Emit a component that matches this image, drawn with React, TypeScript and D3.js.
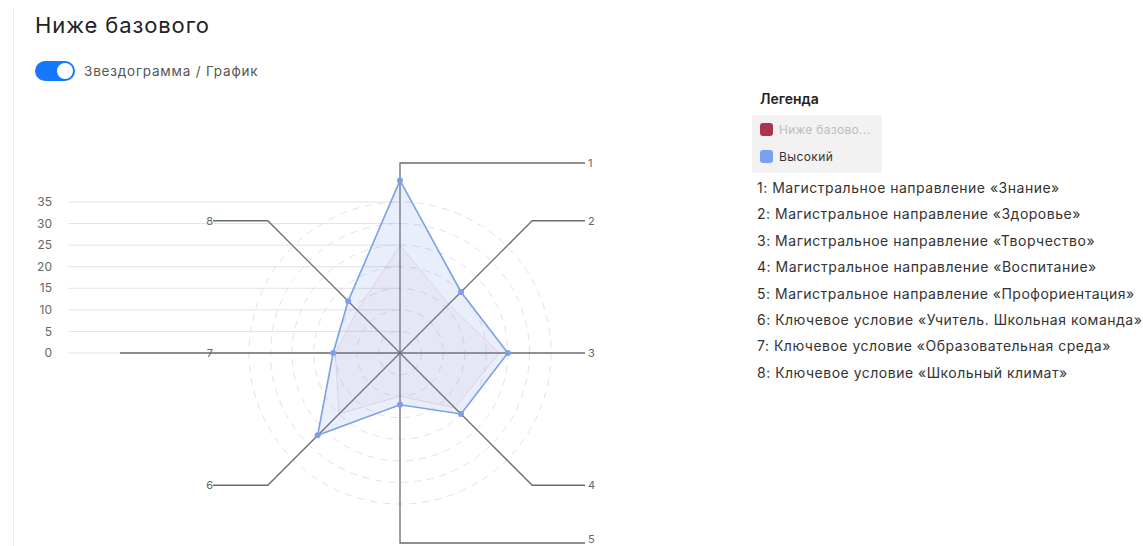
import React from 'react';
import * as d3 from 'd3';

// axis numbers around the star
const axes = ['1', '2', '3', '4', '5', '6', '7', '8'];
const axisNames = [
  'Магистральное направление «Знание»',
  'Магистральное направление «Здоровье»',
  'Магистральное направление «Творчество»',
  'Магистральное направление «Воспитание»',
  'Магистральное направление «Профориентация»',
  'Ключевое условие «Учитель. Школьная команда»',
  'Ключевое условие «Образовательная среда»',
  'Ключевое условие «Школьный климат»',
];
const seriesNames = ['Ниже базового', 'Высокий'];
const lowValues = [25, 16, 23, 18, 10, 20, 15, 14];
const highValues = [40, 20, 25, 20, 12, 27, 15.5, 17];
const yTicks = [0, 5, 10, 15, 20, 25, 30, 35];

const cx = 400;
const cy = 353;
const font = 'Inter, "Noto Sans", sans-serif';

function App() {
  const r = d3.scaleLinear().domain([0, 35]).range([0, 151]);
  const angle = d3.scaleLinear().domain([0, axes.length]).range([0, 2 * Math.PI]);

  const pt = (i: number, v: number): [number, number] => {
    const a = angle(i);
    return [cx + Math.sin(a) * r(v), cy - Math.cos(a) * r(v)];
  };

  const radial = d3
    .lineRadial<number>()
    .angle((_, i) => angle(i))
    .radius((d) => r(d))
    .curve(d3.curveLinearClosed);

  // leader lines: out along the axis, then horizontal to label
  const L = 190;
  const leader = (i: number) => {
    const a = angle(i);
    const len = i % 2 === 1 ? 187 : L;
    const ex = cx + Math.sin(a) * len;
    const ey = cy - Math.cos(a) * len;
    if (i === 2) return { d: `M${cx},${cy}H${cx + 185}`, lx: cx + 188, ly: cy, anchor: 'start' };
    if (i === 6) return { d: `M${cx},${cy}H120`, lx: 213, ly: cy, anchor: 'end' };
    const right = i <= 4;
    const hx = right ? cx + 185 : cx - 187;
    return {
      d: `M${cx},${cy}L${ex},${ey}H${hx}`,
      lx: right ? hx + 3 : hx,
      ly: i === 4 ? ey - 4 : ey,
      anchor: right ? 'start' : 'end',
    };
  };

  return (
    <div style={{ position: 'absolute', left: 0, top: 0 }}>
      <svg width={1143} height={546} style={{ display: 'block', fontFamily: font }}>
        <rect width={1143} height={546} fill="#fff" />
        <line x1={13.5} x2={13.5} y1={8} y2={546} stroke="#ececec" />

        <text x={35} y={33} fontSize={22} letterSpacing={0.9} fill="#222">Ниже базового</text>
        <rect x={35} y={61} width={40} height={20} rx={10} fill="#1677ff" />
        <circle cx={65} cy={71} r={8} fill="#fff" />
        <text x={84} y={76} fontSize={13.5} letterSpacing={0.8} fill="#555">Звездограмма / График</text>

        {/* y axis + grid */}
        {yTicks.map((t) => (
          <g key={t}>
            <line x1={68} x2={cx} y1={cy - r(t)} y2={cy - r(t)} stroke="#e3e3e3" />
            <text x={52} y={cy - r(t)} dy="0.35em" textAnchor="end" fontSize={12} fill="#666">
              {t}
            </text>
          </g>
        ))}

        {/* dashed rings */}
        {yTicks.slice(1).map((t) => (
          <circle key={t} cx={cx} cy={cy} r={r(t)} fill="none" stroke="#e2e2e2" strokeDasharray="7 6" />
        ))}

        {/* axes and leader lines */}
        {axes.map((a, i) => {
          const l = leader(i);
          return (
            <g key={a}>
              <path d={l.d} fill="none" stroke="#6b6b6b" strokeWidth={1.3} />
              <text x={l.lx} y={l.ly} dy="0.35em" textAnchor={l.anchor} fontSize={11} fill="#666">
                {a}
              </text>
            </g>
          );
        })}

        {/* series */}
        <path
          d={radial(lowValues) || ''}
          transform={`translate(${cx},${cy})`}
          fill="rgba(200,120,140,0.06)"
          stroke="rgba(210,120,130,0.22)"
          strokeWidth={1}
        />
        <path
          d={radial(highValues) || ''}
          transform={`translate(${cx},${cy})`}
          fill="rgba(120,150,230,0.16)"
          stroke="#7e9fe8"
          strokeWidth={1.6}
        />
        {highValues.map((v, i) => {
          const [x, y] = pt(i, v);
          return <circle key={i} cx={x} cy={y} r={3} fill="#7e9fe8" />;
        })}

        {/* legend */}
        <text x={760} y={104} fontSize={14} fontWeight={600} fill="#222">Легенда</text>
        <rect x={752} y={115} width={130} height={58} fill="#f2f2f2" />
        <rect x={760} y={123} width={13} height={13} rx={3} fill="#a8344f" />
        <text x={779} y={130} dy="0.35em" fontSize={12} letterSpacing={0.3} fill="#bdbdbd">
          {seriesNames[0].slice(0, 11) + '...'}
        </text>
        <rect x={760} y={150} width={13} height={13} rx={3} fill="#7aa0ee" />
        <text x={779} y={157} dy="0.35em" fontSize={12} letterSpacing={0.4} fill="#333">{seriesNames[1]}</text>

        {axisNames.map((n, i) => (
          <text key={n} x={757} y={188 + i * 26.4} dy="0.35em" fontSize={14} letterSpacing={0.5} fill="#333">
            {`${axes[i]}: ${n}`}
          </text>
        ))}
      </svg>
    </div>
  );
}

export default App;
